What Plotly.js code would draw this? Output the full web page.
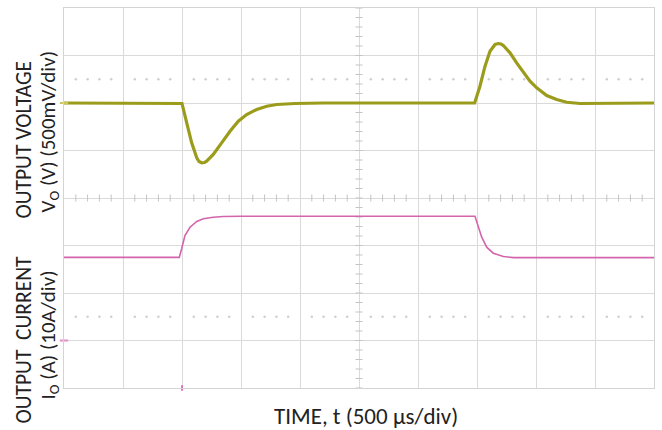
<!DOCTYPE html>
<html>
<head>
<meta charset="utf-8">
<script src="https://cdn.plot.ly/plotly-3.0.1.min.js"></script>
<style>html,body{margin:0;padding:0;background:#fff;}#chart{width:662px;height:430px;}</style>
</head>
<body>
<div id="chart"></div>
<script>
// Time in microseconds (500 us/div)
const voltageTime = [0, 1000, 1040, 1082, 1125, 1144, 1167, 1191, 1209, 1265, 1336, 1407, 1477, 1548, 1633, 1718, 1803, 1958, 2200, 3480, 3525, 3568, 3610, 3635, 3653, 3681, 3703, 3723, 3780, 3836, 3893, 3949, 4006, 4091, 4175, 4260, 4373, 5000];
// Output voltage deviation in mV (500 mV/div)
const voltageMv = [0, -5, -208, -419, -577, -616, -629, -626, -613, -542, -419, -297, -192, -121, -68, -34, -16, -5, 0, 0, 177, 388, 545, 595, 616, 626, 621, 605, 528, 423, 318, 229, 160, 79, 37, 8, -5, 0];

const currentTime = [0, 977, 997, 1025, 1068, 1125, 1181, 1265, 1350, 1500, 3483, 3511, 3540, 3582, 3638, 3723, 3808, 5000];
// Output current in A (10 A/div)
const currentA = [17.5, 17.5, 19.31, 22.1, 23.85, 25.05, 25.62, 25.96, 26.1, 26.17, 26.17, 24.21, 21.75, 19.64, 18.38, 17.68, 17.45, 17.45];

const xTitle = 'TIME, t (500 \u00b5s/div)';
const vTitle1 = 'OUTPUT VOLTAGE';
const vTitle2 = 'V<sub>O</sub> (V) (500mV/div)';
const iTitle1 = 'OUTPUT\u00a0\u00a0CURRENT';
const iTitle2 = 'I<sub>O</sub> (A) (10A/div)';

// graticule decorations (oscilloscope minor marks)
const minorT = [];
for (let k = 0; k <= 50; k++) { if (k % 5 !== 0) { minorT.push(k * 100); } }
const minorV = [];
for (let k = 0; k <= 40; k++) { minorV.push(-3000 + k * 100); }

const gridColor = '#dadada';
const traces = [
  {x: minorT, y: minorT.map(() => 250), type: 'scatter', mode: 'markers', marker: {size: 2.5, color: '#cfcfcf'}, hoverinfo: 'skip', showlegend: false},
  {x: minorT, y: minorT.map(() => -2250), type: 'scatter', mode: 'markers', marker: {size: 2.5, color: '#cfcfcf'}, hoverinfo: 'skip', showlegend: false},
  {x: minorV.map(() => 2500), y: minorV, type: 'scatter', mode: 'markers', marker: {symbol: 'line-ew', size: 5, line: {width: 1, color: '#c4c4c4'}}, hoverinfo: 'skip', showlegend: false},
  {x: minorT, y: minorT.map(() => -1000), type: 'scatter', mode: 'markers', marker: {symbol: 'line-ns', size: 5, line: {width: 1, color: '#c4c4c4'}}, hoverinfo: 'skip', showlegend: false},
  {x: voltageTime, y: voltageMv, type: 'scatter', mode: 'lines', line: {color: '#9c9c1c', width: 3.2}, showlegend: false, name: 'VO'},
  {x: currentTime, y: currentA, type: 'scatter', mode: 'lines', yaxis: 'y2', line: {color: '#d465ad', width: 1.6}, showlegend: false, name: 'IO'},
  {x: [0], y: [0], type: 'scatter', mode: 'markers', marker: {symbol: 'line-ew', size: 6, line: {width: 2, color: '#c8c860'}}, cliponaxis: false, hoverinfo: 'skip', showlegend: false},
  {x: [0], y: [0], yaxis: 'y2', type: 'scatter', mode: 'markers', marker: {symbol: 'line-ew', size: 6, line: {width: 2, color: '#e090c8'}}, cliponaxis: false, hoverinfo: 'skip', showlegend: false},
  {x: [1000], y: [-10], yaxis: 'y2', type: 'scatter', mode: 'markers', marker: {symbol: 'line-ns', size: 4, line: {width: 2, color: '#e070b8'}}, cliponaxis: false, hoverinfo: 'skip', showlegend: false}
];

const ann = (text, px, py, angle, size) => ({
  text: text, xref: 'paper', yref: 'paper',
  x: (px - 64) / 590, y: (388 - py) / 380,
  xanchor: 'center', yanchor: 'middle', showarrow: false, textangle: angle,
  font: {family: 'Carlito, Lato, sans-serif', size: size, color: '#222'}
});

const annotations = [
  ann(vTitle1, 23.5, 140, -90, 21.5),
  ann(vTitle2, 48.5, 132, -90, 21),
  ann(iTitle1, 23.5, 340, -90, 21.5),
  ann(iTitle2, 48.5, 335, -90, 21),
  ann(xTitle, 366, 416, 0, 23)
];

const layout = {
  width: 662, height: 430,
  margin: {l: 64, r: 8, t: 8, b: 42},
  paper_bgcolor: '#fff', plot_bgcolor: '#fff',
  showlegend: false,
  xaxis: {range: [0, 5000], dtick: 500, tick0: 0, showticklabels: false, ticks: '', gridcolor: gridColor, gridwidth: 1, zeroline: false, showline: true, mirror: true, linecolor: '#d4d4d4', linewidth: 1},
  yaxis: {range: [-3000, 1000], dtick: 500, tick0: 0, showticklabels: false, ticks: '', gridcolor: gridColor, gridwidth: 1, zeroline: false, showline: true, mirror: true, linecolor: '#d4d4d4', linewidth: 1},
  yaxis2: {range: [-10, 70], overlaying: 'y', showgrid: false, showticklabels: false, zeroline: false, showline: false, ticks: ''},
  annotations: annotations
};

Plotly.newPlot('chart', traces, layout, {displayModeBar: false, staticPlot: true});
</script>
</body>
</html>
